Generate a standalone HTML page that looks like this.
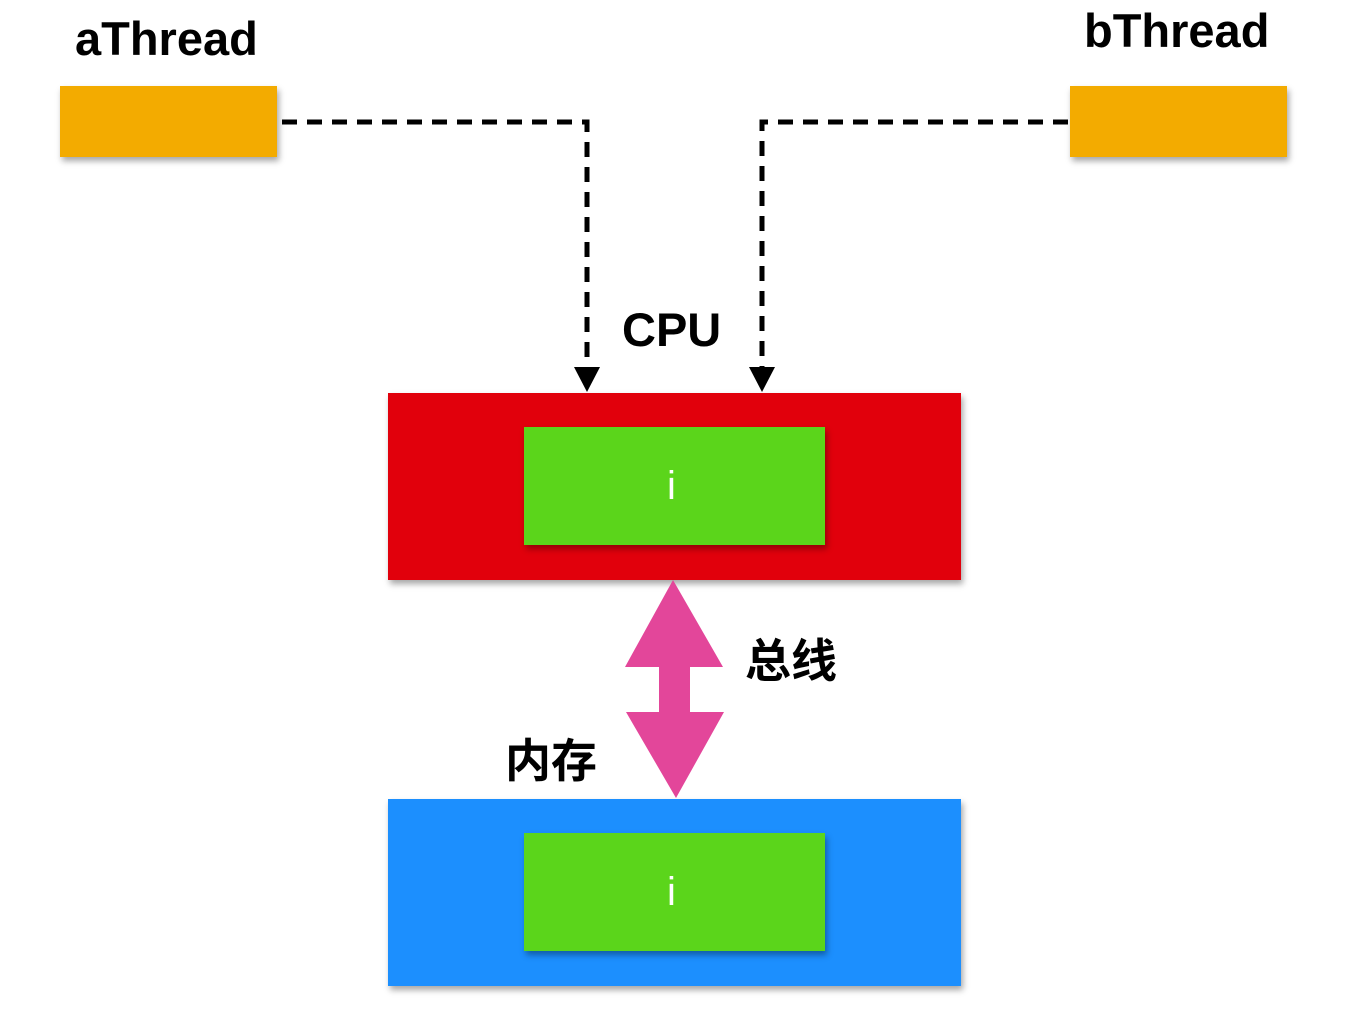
<!DOCTYPE html>
<html><head><meta charset="utf-8"><style>
html,body{margin:0;padding:0;background:#fff;width:1348px;height:1022px;overflow:hidden}
.a{position:absolute}
.t{position:absolute;font-family:"Liberation Sans","Noto Sans CJK SC",sans-serif;font-weight:bold;color:#000;white-space:nowrap;line-height:1}
.sh{box-shadow:2px 4px 6px rgba(0,0,0,0.35)}
</style></head><body>
<div class="t" style="left:75px;top:15px;font-size:47px">aThread</div>
<div class="t" style="left:1084px;top:7px;font-size:47px">bThread</div>
<div class="a sh" style="left:60px;top:86px;width:217px;height:71px;background:#f3ab00"></div>
<div class="a sh" style="left:1070px;top:86px;width:217px;height:71px;background:#f3ab00"></div>
<div class="t" style="left:622px;top:306px;font-size:47px">CPU</div>
<div class="a sh" style="left:388px;top:393px;width:573px;height:187px;background:#e1000c"></div>
<div class="a sh" style="left:524px;top:427px;width:301px;height:118px;background:#5bd51b"></div>
<div class="t" style="left:667px;top:466px;font-size:40px;color:#fff;font-weight:normal">i</div>
<div class="a sh" style="left:388px;top:799px;width:573px;height:187px;background:#1c8ffe"></div>
<div class="a sh" style="left:524px;top:833px;width:301px;height:118px;background:#5bd51b"></div>
<div class="t" style="left:667px;top:872px;font-size:40px;color:#fff;font-weight:normal">i</div>
<div class="t" style="left:745px;top:638px;font-size:46px">总线</div>
<div class="t" style="left:505px;top:738px;font-size:46px">内存</div>
<svg class="a" style="left:0;top:0" width="1348" height="1022">
<g fill="none" stroke="#000" stroke-width="5" stroke-dasharray="15 10">
<path d="M282 122 H587 V368"/>
<path d="M1068 122 H762 V368"/>
</g>
<polygon points="574,367 600,367 587,392" fill="#000"/>
<polygon points="749,367 775,367 762,392" fill="#000"/>
<polygon points="673,580 723,667 690,667 690,712 724,712 676,798 626,712 659,712 659,667 625,667" fill="#e3469a"/>
</svg>
</body></html>
